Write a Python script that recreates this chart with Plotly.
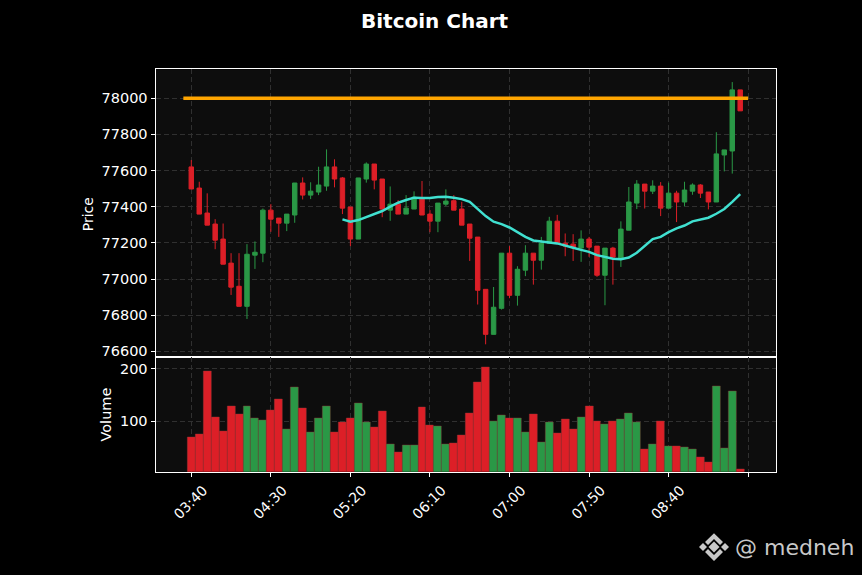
import plotly.graph_objects as go

W = 862
H = 575

opens = [77620, 77503, 77365, 77304, 77221, 77088, 76960, 76849, 77132, 77143,
         77381, 77337, 77309, 77354, 77531, 77464, 77481, 77514, 77620, 77559,
         77398, 77221, 77553, 77636, 77553, 77381, 77414, 77359, 77387, 77442,
         77359, 77320, 77414, 77433, 77387, 77304, 77232, 76943, 76694, 76838,
         77143, 76910, 77049, 77143, 77104, 77198, 77320, 77198, 77193, 77171,
         77221, 77182, 77021, 77171, 77110, 77270, 77420, 77525, 77486, 77514,
         77392, 77475, 77426, 77486, 77520, 77481, 77426, 77686, 77708, 78046]
highs = [77658, 77538, 77474, 77331, 77307, 77143, 77143, 77193, 77208, 77390,
         77414, 77337, 77359, 77531, 77562, 77535, 77621, 77717, 77662, 77564,
         77398, 77559, 77645, 77636, 77553, 77512, 77437, 77464, 77485, 77542,
         77381, 77420, 77496, 77464, 77427, 77304, 77232, 76943, 76956, 77143,
         77182, 77071, 77187, 77143, 77233, 77344, 77355, 77252, 77248, 77269,
         77233, 77182, 77171, 77178, 77319, 77509, 77547, 77525, 77546, 77536,
         77533, 77488, 77538, 77529, 77525, 77481, 77812, 77714, 78089, 78046]
lows = [77498, 77359, 77298, 77165, 77082, 76912, 76849, 76779, 77056, 77093,
        77261, 77233, 77265, 77311, 77440, 77442, 77464, 77488, 77507, 77359,
        77182, 77221, 77533, 77496, 77342, 77322, 77359, 77359, 77387, 77354,
        77259, 77259, 77403, 77381, 77298, 77100, 76859, 76639, 76694, 76831,
        76894, 76853, 77016, 76969, 77052, 77198, 77198, 77126, 77100, 77095,
        77123, 77012, 76855, 76969, 77067, 77270, 77387, 77390, 77470, 77348,
        77392, 77315, 77403, 77466, 77448, 77385, 77426, 77595, 77583, 77930]
closes = [77498, 77359, 77298, 77215, 77082, 76955, 76849, 77137, 77148, 77381,
          77331, 77309, 77359, 77531, 77464, 77486, 77520, 77620, 77553, 77392,
          77221, 77559, 77636, 77547, 77387, 77414, 77359, 77392, 77453, 77354,
          77320, 77420, 77431, 77381, 77298, 77226, 76938, 76694, 76844, 77143,
          76910, 77054, 77143, 77104, 77198, 77320, 77198, 77182, 77174, 77221,
          77176, 77021, 77171, 77121, 77276, 77426, 77525, 77486, 77514, 77392,
          77475, 77426, 77492, 77520, 77475, 77426, 77692, 77714, 78046, 77930]
volumes = [70, 75, 195, 107, 81, 128, 113, 128, 106, 102,
           121, 142, 85, 165, 125, 79, 106, 128, 79, 98,
           106, 134, 98, 89, 119, 56, 41, 54, 54, 127,
           92, 90, 56, 58, 73, 115, 174, 203, 100, 111,
           106, 106, 79, 113, 60, 98, 77, 104, 85, 108,
           128, 100, 94, 100, 104, 115, 98, 47, 56, 100,
           52, 52, 51, 47, 32, 22, 166, 49, 157, 9]
avg_line = [None] * 19 + [
    77330, 77317, 77326, 77344, 77359, 77376, 77400, 77422, 77437, 77450,
    77448, 77448, 77453, 77455, 77450, 77442, 77427, 77390, 77348, 77317,
    77304, 77285, 77257, 77233, 77213, 77206, 77202, 77197, 77187, 77173,
    77161, 77150, 77132, 77121, 77112, 77110, 77119, 77145, 77182, 77221,
    77233, 77259, 77280, 77296, 77319, 77331, 77339, 77361, 77387, 77427,
    77470]

candle_idx = list(range(len(opens)))
tick_pos = [0, 10, 20, 30, 40, 50, 60, 70]
tick_text = ["03:40", "04:30", "05:20", "06:10", "07:00", "07:50", "08:40", ""]
level_x = [-1, 70]
level_y = [78000, 78000]

GREEN = "#2a9846"
RED = "#dc1f27"
vol_colors = [GREEN if c > o else RED for o, c in zip(opens, closes)]


def px(x):
    return x / W


def py(y):
    return 1 - y / H


fig = go.Figure()
fig.add_trace(go.Bar(x=candle_idx, y=volumes, marker_color=vol_colors, marker_line_width=0.4,
                     marker_line_color="#8a3a3a", width=1.0, xaxis="x2", yaxis="y2", showlegend=False))
fig.add_trace(go.Candlestick(x=candle_idx, open=opens, high=highs, low=lows, close=closes,
                             increasing=dict(line=dict(color=GREEN, width=1), fillcolor=GREEN),
                             decreasing=dict(line=dict(color=RED, width=1), fillcolor=RED),
                             whiskerwidth=0, xaxis="x", yaxis="y", showlegend=False))
fig.add_trace(go.Scatter(x=candle_idx, y=avg_line, mode="lines", line=dict(color="#40e0d0", width=2.5),
                         xaxis="x", yaxis="y", showlegend=False))
fig.add_trace(go.Scatter(x=level_x, y=level_y, mode="lines", line=dict(color="#ffa500", width=3.5),
                         xaxis="x", yaxis="y", showlegend=False))

grid = dict(showgrid=True, gridcolor="#303030", griddash="5px,3px", gridwidth=1, zeroline=False,
            showline=True, linecolor="white", linewidth=1, mirror=True,
            ticks="outside", tickcolor="white", ticklen=4, tickwidth=1,
            tickfont=dict(color="white", size=14.5))

# binance logo bottom right, drawn in pixels
logo = [
    [(714, 543.5), (719.5, 549), (714, 554.5), (708.5, 549)],
    [(703, 545), (707, 549), (703, 553), (699, 549)],
    [(725, 545), (729, 549), (725, 553), (721, 549)],
    [(714, 535), (723, 544), (720, 547), (714, 541), (708, 547), (705, 544)],
    [(714, 563), (723, 554), (720, 551), (714, 557), (708, 551), (705, 554)],
]
shapes = []
for pts in logo:
    path = "M " + " L ".join(f"{px(a):.5f},{py(b):.5f}" for a, b in pts) + " Z"
    shapes.append(dict(type="path", xref="paper", yref="paper", path=path,
                       fillcolor="#c8c8c8", line=dict(width=0)))


def label(text, x, y, size, color="white", angle=0):
    return dict(text=text, x=px(x), y=py(y), xref="paper", yref="paper", showarrow=False,
                xanchor="center", yanchor="middle", textangle=angle, font=dict(size=size, color=color))


fig.update_layout(
    width=W, height=H, autosize=False,
    margin=dict(l=0, r=0, t=0, b=0),
    paper_bgcolor="black", plot_bgcolor="#0d0d0d",
    font=dict(family="DejaVu Sans", color="white", size=14),
    boxgap=0.2, bargap=0,
    xaxis=dict(domain=[px(155.5), px(776)], range=[-4.5, 73.5], anchor="y", rangeslider=dict(visible=False),
               tickvals=tick_pos, ticktext=[""] * len(tick_pos), **{**grid, "ticks": ""}),
    yaxis=dict(domain=[py(358.4), py(69.5)], range=[76568, 78160], anchor="x",
               tickvals=[76600, 76800, 77000, 77200, 77400, 77600, 77800, 78000], tickformat="d", **grid),
    xaxis2=dict(domain=[px(155.5), px(776)], range=[-4.5, 73.5], anchor="y2",
                tickvals=tick_pos, ticktext=tick_text, tickangle=-45, ticklabelshift=12,
                **{**grid, "tickfont": dict(color="white", size=14)}),
    yaxis2=dict(domain=[py(473.4), py(358.4)], range=[3.7, 221.5], anchor="x2",
                tickvals=[100, 200], **grid),
    shapes=shapes,
    annotations=[
        label("<b>Bitcoin Chart</b>", 434.5, 21, 20),
        label("Price", 88, 215, 14, angle=-90),
        label("Volume", 106, 416, 14.5, angle=-90),
        label("@ medneh", 794, 549, 22, "#c8c8c8"),
    ],
)

fig.write_html("out.html", config={"displayModeBar": False}, post_script="document.body.style.margin='0';")
